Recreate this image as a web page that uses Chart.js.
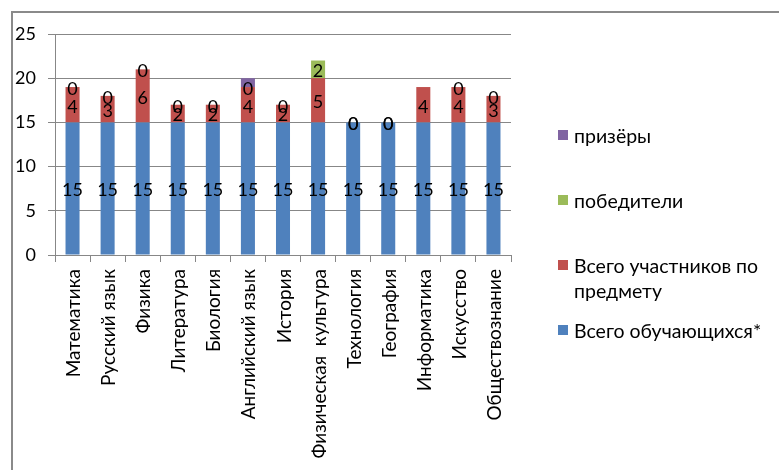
<!DOCTYPE html>
<html>
<head>
<meta charset="utf-8">
<script src="https://cdn.jsdelivr.net/npm/chart.js@4.4.1/dist/chart.umd.min.js"></script>
<style>
  html, body { margin: 0; padding: 0; background: #fff; }
  #wrap { position: relative; width: 779px; height: 470px; overflow: hidden; font-family: 'Lato', sans-serif; }
  #frame { position: absolute; left: 11px; top: 11px; width: 800px; height: 500px; border-left: 2px solid #8a8a8a; border-top: 2px solid #8a8a8a; box-sizing: border-box; }
  canvas { position: absolute; left: 0; top: 0; }
  .lg { position: absolute; left: 574px; font-size: 19.5px; line-height: 25px; color: #000; white-space: nowrap; }
  .sq { position: absolute; left: 558px; width: 10px; height: 10px; }
</style>
</head>
<body>
<div id="wrap">
  <div id="frame"></div>
  <canvas id="c" width="779" height="470"></canvas>
  <div id="legend"></div>
</div>
<script>
const categories = ['Математика','Русский язык','Физика','Литература','Биология','Английский язык','История','Физическая  культура','Технология','География','Информатика','Искусство','Обществознание'];
const students = [15,15,15,15,15,15,15,15,15,15,15,15,15];
const participants = [4,3,6,2,2,4,2,5,0,0,4,4,3];
const winners = [0,0,0,0,0,0,0,2,0,0,null,0,0];
const prizewinners = [null,null,null,null,null,1,null,null,null,null,null,null,null];
const seriesNames = ['Всего обучающихся*','Всего участников по предмету','победители','призёры'];
const yTicks = [0,5,10,15,20,25];

const colors = ['#4F81BD','#C0504D','#9BBB59','#8064A2'];
const FONT = 'Lato';

const labelPlugin = {
  id: 'valueLabels',
  afterDatasetsDraw(chart) {
    const ctx = chart.ctx;
    ctx.save();
    ctx.font = '18px ' + FONT;
    ctx.fillStyle = '#000';
    ctx.textAlign = 'center';
    ctx.textBaseline = 'middle';
    [0,1,2].forEach(di => {
      const meta = chart.getDatasetMeta(di);
      const data = chart.data.datasets[di].data;
      meta.data.forEach((el, i) => {
        if (data[i] === null || data[i] === undefined) return;
        const y = (el.y + el.base) / 2;
        ctx.fillText(String(data[i]), el.x, y + 2);
      });
    });
    ctx.restore();
  }
};

// Category labels drawn vertically (bottom-to-top) at the library's tick positions
const xLabelPlugin = {
  id: 'xLabels',
  afterDraw(chart) {
    const sc = chart.scales.x;
    const ctx = chart.ctx;
    ctx.save();
    ctx.font = '19px ' + FONT;
    ctx.fillStyle = '#000';
    ctx.textAlign = 'right';
    ctx.textBaseline = 'alphabetic';
    chart.data.labels.forEach((lab, i) => {
      const x = sc.getPixelForTick(i) + 7.5;
      const y = sc.top + 14;
      ctx.save();
      ctx.translate(x, y);
      ctx.rotate(-Math.PI / 2);
      ctx.fillText(lab, 0, 0);
      ctx.restore();
    });
    ctx.restore();
  }
};

const datasets = [students, participants, winners, prizewinners].map((d, i) => ({
  label: seriesNames[i],
  data: d,
  backgroundColor: colors[i],
  borderWidth: 0,
  barPercentage: 0.4,
  categoryPercentage: 1.0,
  stack: 's'
}));

new Chart(document.getElementById('c'), {
  type: 'bar',
  data: { labels: categories, datasets },
  options: {
    responsive: false,
    animation: false,
    devicePixelRatio: 1,
    layout: { padding: { left: 0, right: 268, top: 34, bottom: 0 } },
    plugins: { legend: { display: false }, tooltip: { enabled: false } },
    scales: {
      x: {
        stacked: true,
        grid: { display: true, drawOnChartArea: false, drawTicks: true, tickLength: 7, color: '#878787', offset: true },
        border: { display: true, color: '#878787', width: 1 },
        ticks: { display: false, autoSkip: false },
        afterFit(scale) { scale.height = 215; }
      },
      y: {
        stacked: true,
        min: 0, max: 25,
        afterBuildTicks(scale) { scale.ticks = yTicks.map(v => ({ value: v })); },
        grid: { color: '#878787', tickLength: 7, drawTicks: true },
        border: { display: true, color: '#878787', width: 1 },
        ticks: { color: '#000', font: { family: FONT, size: 18 }, padding: 12 },
        afterFit(scale) { scale.width = 55; }
      }
    }
  },
  plugins: [labelPlugin, xLabelPlugin]
});

// Legend (reverse order, as in the reference)
const legendEl = document.getElementById('legend');
const legendItems = [
  { idx: 3, lines: ['призёры'], cy: 135 },
  { idx: 2, lines: ['победители'], cy: 200 },
  { idx: 1, lines: ['Всего участников по', 'предмету'], cy: 265 },
  { idx: 0, lines: ['Всего обучающихся*'], cy: 330 }
];
legendItems.forEach(it => {
  const sq = document.createElement('div');
  sq.className = 'sq';
  sq.style.background = colors[it.idx];
  sq.style.top = (it.cy - 5) + 'px';
  legendEl.appendChild(sq);
  const t = document.createElement('div');
  t.className = 'lg';
  t.style.top = (it.cy - 12.5) + 'px';
  t.innerHTML = it.lines.join('<br>');
  legendEl.appendChild(t);
});
</script>
</body>
</html>
